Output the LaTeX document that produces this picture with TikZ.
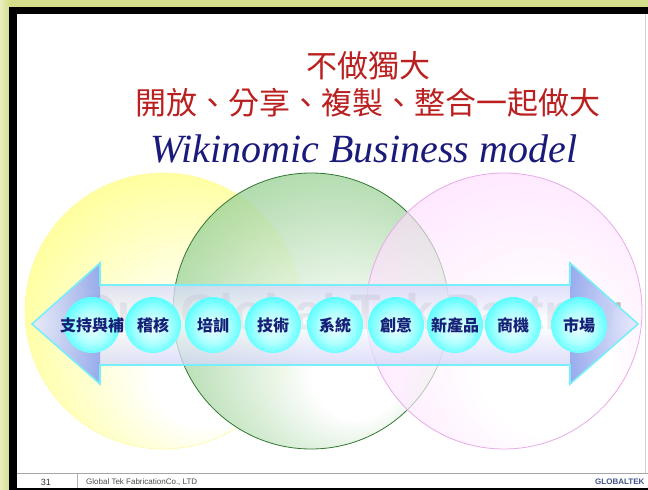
\documentclass[tikz,border=0pt]{standalone}
\usepackage{fontspec}
\setmainfont{Liberation Serif}
\setsansfont{Liberation Sans}
\newfontfamily\cjk{Noto Sans CJK TC}
\definecolor{frameolive}{RGB}{214,222,140}
\definecolor{titlered}{RGB}{186,32,32}
\definecolor{navyink}{RGB}{26,26,122}
\definecolor{ballink}{RGB}{22,32,118}
\definecolor{arrowedge}{RGB}{120,238,250}
\definecolor{lavender}{RGB}{190,194,246}
\definecolor{headblue}{RGB}{136,160,234}
\definecolor{greenedge}{RGB}{50,120,50}
\definecolor{greenfill}{RGB}{100,184,92}
\definecolor{pinkedge}{RGB}{232,170,232}
\definecolor{footblue}{RGB}{64,84,140}
\pgfdeclareradialshading{yelcirc}{\pgfpoint{10bp}{-14bp}}{color(0bp)=(white); color(10bp)=(white); color(30bp)=(yellow!40!white); color(48bp)=(yellow!62!white)}
\pgfdeclareradialshading{grncirc}{\pgfpoint{10bp}{-14bp}}{color(0bp)=(white); color(8bp)=(white); color(26bp)=(greenfill!50!white); color(46bp)=(greenfill)}
\pgfdeclareradialshading{pnkcirc}{\pgfpoint{10bp}{-14bp}}{color(0bp)=(white); color(12bp)=(white); color(32bp)=(magenta!14!white); color(48bp)=(magenta!24!white)}
\pgfdeclareradialshading{cyball}{\pgfpoint{0bp}{-3bp}}{color(0bp)=(cyan!8!white); color(14bp)=(cyan!30!white); color(28bp)=(cyan!70!white); color(40bp)=(cyan!92!white)}
\tikzset{
  ball/.style={circle, minimum size=56pt, inner sep=0pt, shade, shading=cyball,
    text=ballink, font=\cjk\bfseries\fontsize{16}{16}\selectfont},
  title/.style={text=titlered, font=\cjk\fontsize{31}{31}\selectfont, inner sep=0pt},
  wmark/.style={text=gray, opacity=0.5, font=\sffamily\bfseries\fontsize{50}{50}\selectfont, inner sep=0pt},
}

\begin{document}
\begin{tikzpicture}[x=1pt,y=-1pt]
			%%%%% START %%%%%
			\useasboundingbox (0,0) rectangle (648,490);
			
			% frame of the slide
			\fill[frameolive] (0,0) rectangle (648,490);
			\shade[left color=frameolive!55!white, right color=frameolive] (0,0) rectangle (9,490);
			\fill[black] (9,7) rectangle (648,490);
			\fill[white] (17,14) rectangle (648,488);
			\draw[gray!35, line width=0.8pt] (645.5,14) -- (645.5,473);
			
			% three circles
			\shade[shading=yelcirc, fill opacity=0.9] (163,311) circle (138);
			\draw[yellow!35, line width=0.6pt] (163,311) circle (138);
			\shade[shading=grncirc, fill opacity=0.8] (311,311) circle (138);
			\draw[greenedge, line width=0.8pt] (311,311) circle (138);
			\shade[shading=pnkcirc, fill opacity=0.65] (504,311) circle (138);
			\draw[pinkedge, line width=0.8pt] (504,311) circle (138);
			
			% titles
			\node[title] (bu) at (368,66) {不做獨大};
			\node[title] (kaifang) at (368,103) {開放、分享、複製、整合一起做大};
			\node[text=navyink, font=\itshape\fontsize{40}{40}\selectfont, inner sep=0pt, anchor=base] (wiki) at (364,162) {Wikinomic Business model};
			
			\node[wmark] (partner) at (350,312) {Our Global Tek Partner};
			
			% double arrow
			\shade[fill opacity=0.75, top color=lavender, bottom color=lavender, middle color=white]
			  (32,324) -- (100,263) -- (100,285) -- (570,285) -- (570,263) -- (638,324) -- (570,384) -- (570,365) -- (100,365) -- (100,384) -- cycle;
			\shade[fill opacity=0.8, left color=lavender!40!white, right color=headblue] (32,324) -- (100,263) -- (100,384) -- cycle;
			\shade[fill opacity=0.8, left color=headblue, right color=lavender!40!white] (570,263) -- (638,324) -- (570,384) -- cycle;
			\draw[arrowedge, line width=1.6pt, line join=miter]
			  (32,324) -- (100,263) -- (100,285) -- (570,285) -- (570,263) -- (638,324) -- (570,384) -- (570,365) -- (100,365) -- (100,384) -- cycle;
			
			% balls
			\node[ball] (zhichi) at (92,325) {\makebox[0pt]{支持與補}};
			\node[ball] (jihe) at (153,325) {\makebox[0pt]{稽核}};
			\node[ball] (peixun) at (213,325) {\makebox[0pt]{培訓}};
			\node[ball] (jishu) at (273,325) {\makebox[0pt]{技術}};
			\node[ball] (xitong) at (335,325) {\makebox[0pt]{系統}};
			\node[ball] (chuangyi) at (396,325) {\makebox[0pt]{創意}};
			\node[ball] (xinchan) at (455,325) {\makebox[0pt]{新產品}};
			\node[ball] (shangji) at (513,325) {\makebox[0pt]{商機}};
			\node[ball] (shichang) at (579,325) {\makebox[0pt]{市場}};
			
			% footer
			\draw[gray!70, line width=1pt] (17,473) -- (648,473);
			\draw[gray!60, line width=0.6pt] (77,473) -- (77,488);
			\node[font=\sffamily\fontsize{9}{9}\selectfont, text=black!80, inner sep=0pt] (pagenum) at (46,482) {31};
			\node[font=\sffamily\fontsize{8}{8}\selectfont, text=black!70, inner sep=0pt, anchor=west] (company) at (86,482) {Global Tek FabricationCo., LTD};
			\node[font=\sffamily\bfseries\fontsize{8}{8}\selectfont, text=footblue, inner sep=0pt, anchor=west] (logo) at (595,482) {GLOBALTEK};
			
			%%%%% END %%%%%
\end{tikzpicture}
\end{document}
